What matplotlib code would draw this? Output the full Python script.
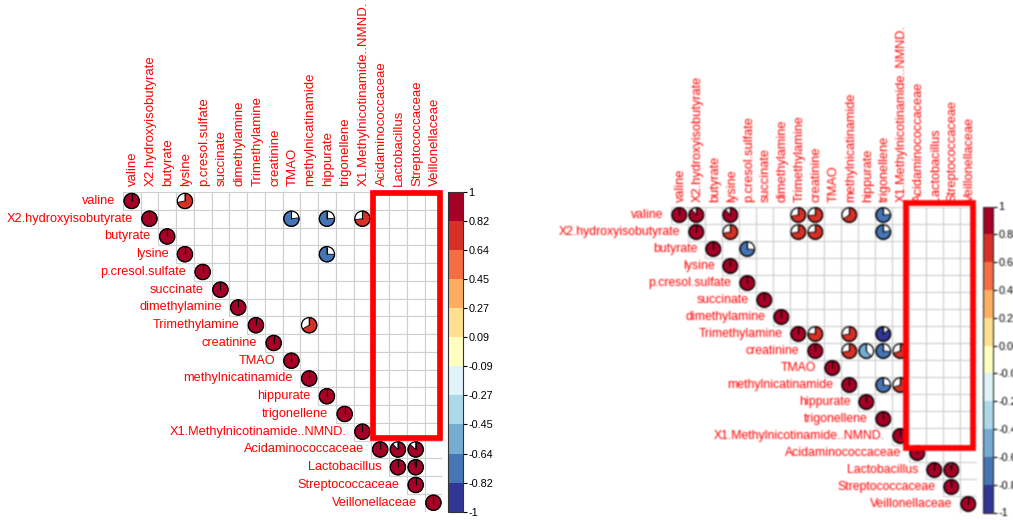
import numpy as np
import matplotlib
matplotlib.use("Agg")
import matplotlib.pyplot as plt
from matplotlib.patches import Circle, Wedge, Rectangle
from matplotlib.colors import ListedColormap, BoundaryNorm
from matplotlib.cm import ScalarMappable

plt.rcParams["font.family"] = ["Liberation Sans", "DejaVu Sans"]

# Variables (metabolites followed by bacterial taxa)
variables = [
    "valine", "X2.hydroxyisobutyrate", "butyrate", "lysine", "p.cresol.sulfate",
    "succinate", "dimethylamine", "Trimethylamine", "creatinine", "TMAO",
    "methylnicatinamide", "hippurate", "trigonellene",
    "X1.Methylnicotinamide..NMND.", "Acidaminococcaceae", "Lactobacillus",
    "Streptococcaceae", "Veillonellaceae",
]

# Significant off-diagonal correlations, first cohort
cohort1_row = ["valine", "X2.hydroxyisobutyrate", "X2.hydroxyisobutyrate",
               "X2.hydroxyisobutyrate", "lysine", "Trimethylamine",
               "Acidaminococcaceae", "Acidaminococcaceae", "Lactobacillus"]
cohort1_col = ["lysine", "TMAO", "hippurate", "X1.Methylnicotinamide..NMND.",
               "hippurate", "methylnicatinamide", "Lactobacillus",
               "Streptococcaceae", "Streptococcaceae"]
cohort1_r = [0.72, -0.77, -0.76, 0.73, -0.75, 0.67, 0.88, 0.87, 0.97]

# Significant off-diagonal correlations, second cohort
cohort2_row = ["valine", "valine", "valine", "valine", "valine", "valine",
               "X2.hydroxyisobutyrate", "X2.hydroxyisobutyrate",
               "X2.hydroxyisobutyrate", "X2.hydroxyisobutyrate",
               "butyrate", "Trimethylamine", "Trimethylamine", "Trimethylamine",
               "creatinine", "creatinine", "creatinine", "creatinine",
               "methylnicatinamide", "methylnicatinamide", "Lactobacillus"]
cohort2_col = ["X2.hydroxyisobutyrate", "lysine", "Trimethylamine", "creatinine",
               "methylnicatinamide", "trigonellene",
               "lysine", "Trimethylamine", "creatinine", "trigonellene",
               "p.cresol.sulfate", "creatinine", "methylnicatinamide", "trigonellene",
               "methylnicatinamide", "hippurate", "trigonellene",
               "X1.Methylnicotinamide..NMND.",
               "trigonellene", "X1.Methylnicotinamide..NMND.", "Streptococcaceae"]
cohort2_r = [0.89, 0.88, 0.72, 0.74, 0.66, -0.76,
             0.72, 0.72, 0.74, -0.78,
             -0.74, 0.76, 0.72, -0.86,
             0.72, -0.62, -0.74, 0.70,
             -0.74, 0.70, 0.96]

palette = ["#313695", "#4575B4", "#74ADD1", "#ABD9E9", "#E0F3F8", "#FFFFBF",
           "#FEE090", "#FDAE61", "#F46D43", "#D73027", "#A50026"]
bounds = np.linspace(-1, 1, 12)
cmap = ListedColormap(palette)
norm = BoundaryNorm(bounds, cmap.N)

W, H = 1013, 520
fig = plt.figure(figsize=(W / 100, H / 100), dpi=100)


def px_axes(x0, y0, w, h):
    return fig.add_axes([x0 / W, 1 - (y0 + h) / H, w / W, h / H])


def build_matrix(rows, cols, vals):
    n = len(variables)
    m = np.full((n, n), np.nan)
    np.fill_diagonal(m, 1.0)
    for a, b, v in zip(rows, cols, vals):
        m[variables.index(a), variables.index(b)] = v
    return m


def corr_panel(ax, mat, fs_row, fs_col, lab_gap, col_gap, box):
    n = len(variables)
    ax.set_xlim(0, n)
    ax.set_ylim(0, n)
    ax.set_aspect("equal")
    ax.axis("off")
    for i in range(n):
        y = n - 1 - i
        for j in range(i, n):
            ax.add_patch(Rectangle((j, y), 1, 1, facecolor="white",
                                   edgecolor="#cfcfcf", lw=0.8, zorder=1))
    for i in range(n):
        y = n - 1 - i
        for j in range(i, n):
            v = mat[i, j]
            if np.isnan(v):
                continue
            cx, cy = j + 0.5, y + 0.5
            rad = 0.43
            col = cmap(norm(v))
            ax.add_patch(Circle((cx, cy), rad, facecolor="white",
                                edgecolor="none", zorder=2))
            ang = 360 * abs(v)
            if v >= 0:
                t1, t2 = 90 - ang, 90
            else:
                t1, t2 = 90, 90 + ang
            ax.add_patch(Wedge((cx, cy), rad, t1, t2, facecolor=col,
                               edgecolor="black", lw=0.6, zorder=3))
            ax.plot([cx, cx], [cy, cy + rad], color="black", lw=0.8,
                    zorder=4, solid_capstyle="butt")
            ax.add_patch(Circle((cx, cy), rad, facecolor="none",
                                edgecolor="black", lw=0.9, zorder=4))
    for i, name in enumerate(variables):
        ax.text(i - lab_gap, n - 1 - i + 0.5, name, ha="right", va="center",
                color="red", fontsize=fs_row, clip_on=False)
        ax.text(i + 0.58, n + col_gap, name, ha="center", va="bottom",
                rotation=90, color="red", fontsize=fs_col, clip_on=False)
    (bx0, by0, bx1, by1) = box
    ax.add_patch(Rectangle((bx0, n - by1), bx1 - bx0, by1 - by0, fill=False,
                           edgecolor="red", lw=4.1, zorder=6, clip_on=False))


def color_key(cax, fs):
    cb = fig.colorbar(ScalarMappable(norm=norm, cmap=cmap), cax=cax,
                      ticks=bounds)
    labels = []
    for b in bounds:
        s = "%.2f" % b
        s = s.rstrip("0").rstrip(".") if abs(abs(b) - 1) < 1e-9 else s
        labels.append(s.replace("\u2212", "-"))
    cb.ax.set_yticklabels(labels)
    cb.ax.tick_params(length=3, width=0.8, labelsize=fs, pad=1, color="black")
    cb.outline.set_linewidth(0.8)
    cb.outline.set_edgecolor("#333333")
    return cb


m1 = build_matrix(cohort1_row, cohort1_col, cohort1_r)
m2 = build_matrix(cohort2_row, cohort2_col, cohort2_r)

ax1 = px_axes(122.8, 192.1, 319.5, 319.5)
corr_panel(ax1, m1, 9.2, 9.5, 0.42, 0.35, (14.07, 0.05, 17.87, 13.85))
cax1 = px_axes(448, 192.1, 15, 319.5)
color_key(cax1, 7.8)

ax2 = px_axes(670.8, 206.5, 306, 306)
corr_panel(ax2, m2, 8.8, 9.2, 0.44, 0.25, (13.85, -0.19, 17.78, 14.22))
cax2 = px_axes(983, 206.5, 10, 306)
color_key(cax2, 7.8)

# Render, then soften the second panel (it comes from a lower-resolution export)
fig.canvas.draw()
img = np.asarray(fig.canvas.buffer_rgba()).astype(float)[:, :, :3] / 255.0
x_split = 520
part = img[:, x_split:, :]
k = np.array([1.0, 2.0, 1.0]) / 4.0
pad = np.pad(part, ((1, 1), (1, 1), (0, 0)), mode="edge")
tmp = k[0] * pad[:, :-2] + k[1] * pad[:, 1:-1] + k[2] * pad[:, 2:]
blur = k[0] * tmp[:-2] + k[1] * tmp[1:-1] + k[2] * tmp[2:]
img[:, x_split:, :] = blur
plt.imsave("out.png", np.clip(img, 0, 1))
